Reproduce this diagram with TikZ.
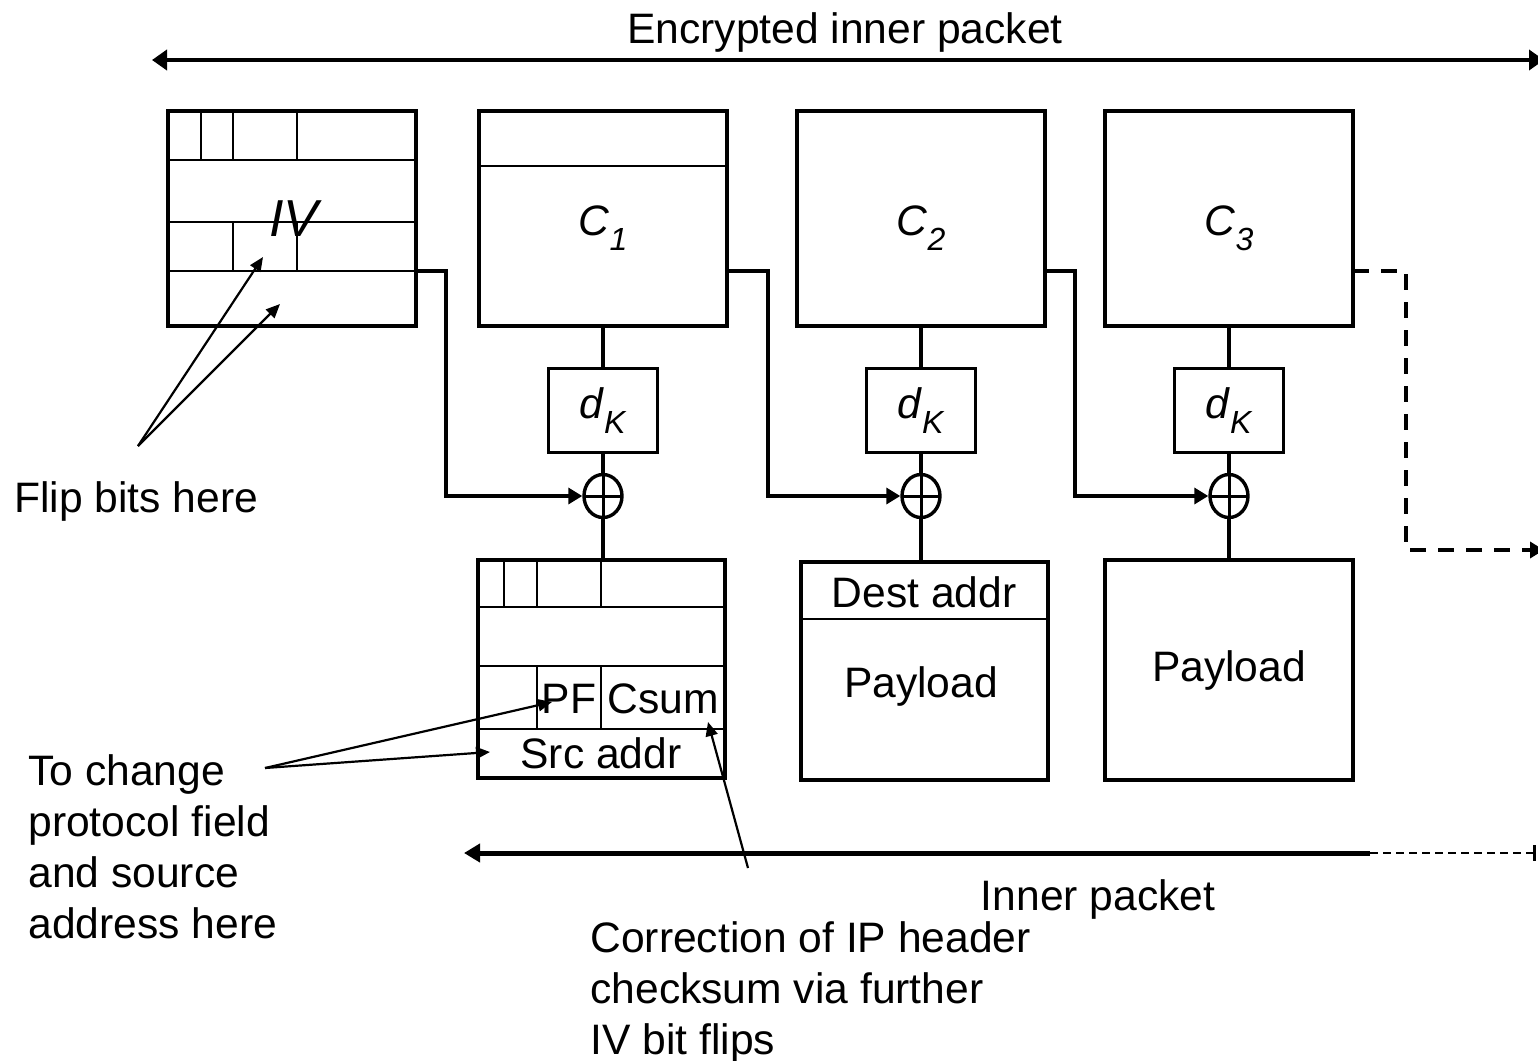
\documentclass[tikz,border=0pt]{standalone}
\usepackage{fontspec}
\setmainfont{Liberation Sans}
\usetikzlibrary{arrows.meta,shapes.geometric}

\newcommand{\lowsub}[1]{\raisebox{-0.35em}{\fontsize{16pt}{16pt}\selectfont\textit{#1}}}

\tikzset{
  box/.style={draw,line width=2pt,minimum width=124pt,minimum height=107.5pt,inner sep=0pt},
  keybox/.style={draw,line width=1.7pt,minimum width=54.5pt,minimum height=42pt,inner sep=0pt},
  xor/.style={draw,ellipse,line width=1.7pt,minimum width=19pt,minimum height=21.5pt,inner sep=0pt,
    path picture={\draw[line width=1.5pt]
      (path picture bounding box.north) -- (path picture bounding box.south)
      (path picture bounding box.west) -- (path picture bounding box.east);}},
  sep/.style={line width=1.4pt},
  conn/.style={line width=1.7pt},
  tip/.style={-{Triangle[length=7pt,width=8pt]}},
  note/.style={line width=1.1pt,-{Triangle[length=7pt,width=6pt]}},
}

\begin{document}
\begin{tikzpicture}[x=0.5pt,y=-0.5pt,font=\fontsize{21.3pt}{25.5pt}\selectfont]
\useasboundingbox (0,0) rectangle (1538,1061);

% encrypted inner packet
\coordinate (encl) at (152,60);
\coordinate (encr) at (1544,60);
\draw[line width=2.2pt,{Triangle[length=7.5pt,width=10pt]}-{Triangle[length=7.5pt,width=10pt]}] (encl) -- (encr);
\node[anchor=base] (enc) at (845,43) {Encrypted inner packet};

% IV and ciphertext blocks
\node[box] (iv) at (292,218.5) {};
\draw[sep] (iv.west |- 0,160) -- (iv.east |- 0,160);
\draw[sep] (iv.west |- 0,222) -- (iv.east |- 0,222);
\draw[sep] (iv.west |- 0,271) -- (iv.east |- 0,271);
\foreach \x in {201,233,297} \draw[sep] (\x,111) -- (\x,160);
\foreach \x in {233,297} \draw[sep] (\x,222) -- (\x,271);
\node[font=\fontsize{26pt}{30pt}\selectfont] (ivlab) at (296,219) {\textit{IV}};

\node[box] (c1) at (603,218.5) {};
\draw[sep] (c1.west |- 0,166) -- (c1.east |- 0,166);
\node (c1lab) at (603,228) {\textit{C}\lowsub{1}};
\node[box] (c2) at (921,218.5) {};
\node (c2lab) at (921,228) {\textit{C}\lowsub{2}};
\node[box] (c3) at (1229,218.5) {};
\node (c3lab) at (1229,228) {\textit{C}\lowsub{3}};

% decryption and xor
\foreach \n/\x in {1/603,2/921,3/1229} {
  \node[keybox] (k\n) at (\x,410.5) {\textit{d}\lowsub{K}};
  \node[xor] (x\n) at (\x,496) {};
  \draw[conn] (c\n.south) -- (k\n.north);
  \draw[conn] (k\n.south) -- (x\n.north);
}

% plaintext blocks
\node[box,minimum width=123.5pt,minimum height=109pt] (hdr) at (601.5,669) {};
\draw[sep] (hdr.west |- 0,607) -- (hdr.east |- 0,607);
\draw[sep] (hdr.west |- 0,666) -- (hdr.east |- 0,666);
\draw[sep] (hdr.west |- 0,729) -- (hdr.east |- 0,729);
\foreach \x in {504,537,601} \draw[sep] (\x,560) -- (\x,607);
\foreach \x in {537,601} \draw[sep] (\x,666) -- (\x,729);
\node (pf) at (569,699) {PF};
\node (csum) at (663,699) {Csum};
\node (src) at (601,753) {Src addr};

\node[box,minimum width=123.5pt,minimum height=109pt] (pay2) at (924.5,671) {};
\draw[sep] (pay2.west |- 0,619) -- (pay2.east |- 0,619);
\node (dest) at (924,592) {Dest addr};
\node (pay2lab) at (921,686) {Payload};
\node[box,minimum height=110pt] (pay3) at (1229,670) {Payload};

\draw[conn] (x1.south) -- (x1 |- hdr.north);
\draw[conn] (x2.south) -- (x2 |- pay2.north);
\draw[conn] (x3.south) -- (x3 |- pay3.north);

% chaining
\coordinate (ivout) at (416,271);
\coordinate (c1out) at (726,271);
\coordinate (c2out) at (1045,271);
\coordinate (c3out) at (1353,271);
\coordinate (next) at (1544,550);
\draw[conn,tip] (ivout) -- ++(30,0) |- (x1.west);
\draw[conn,tip] (c1out) -- ++(42,0) |- (x2.west);
\draw[conn,tip] (c2out) -- ++(30,0) |- (x3.west);
\draw[line width=2pt,dash pattern=on 8pt off 6pt,tip] (c3out) -- ++(53,0) |- (next);

% inner packet
\coordinate (pktr) at (1370,853);
\coordinate (pktl) at (464,853);
\coordinate (pkte) at (1536,853);
\draw[line width=2.5pt,-{Triangle[length=8pt,width=9pt]}] (pktr) -- (pktl);
\draw[line width=1pt,dash pattern=on 4pt off 2.5pt,-{Bar[width=8pt,line width=1.5pt]}] (pktr) -- (pkte);
\node[anchor=base] (inner) at (1098,910) {Inner packet};

% annotations
\node[anchor=base west,inner sep=0pt] (flip) at (14,512) {Flip bits here};
\coordinate (flipsrc) at (138,446);
\coordinate (flipa) at (263,257);
\coordinate (flipb) at (280,304);
\draw[note] (flipsrc) -- (flipa);
\draw[note] (flipsrc) -- (flipb);

\node[anchor=north west,align=left,inner sep=0pt] (change) at (28,754) {To change\\protocol field\\and source\\address here};
\coordinate (chgsrc) at (265,768);
\coordinate (chgpf) at (552,702);
\coordinate (chgsa) at (490,752);
\draw[note] (chgsrc) -- (chgpf);
\draw[note] (chgsrc) -- (chgsa);

\node[anchor=north west,align=left,inner sep=0pt] (corr) at (590,921) {Correction of IP header\\checksum via further\\IV bit flips};
\coordinate (corsrc) at (748,868);
\coordinate (corcs) at (708,722);
\draw[note] (corsrc) -- (corcs);
\end{tikzpicture}
\end{document}
